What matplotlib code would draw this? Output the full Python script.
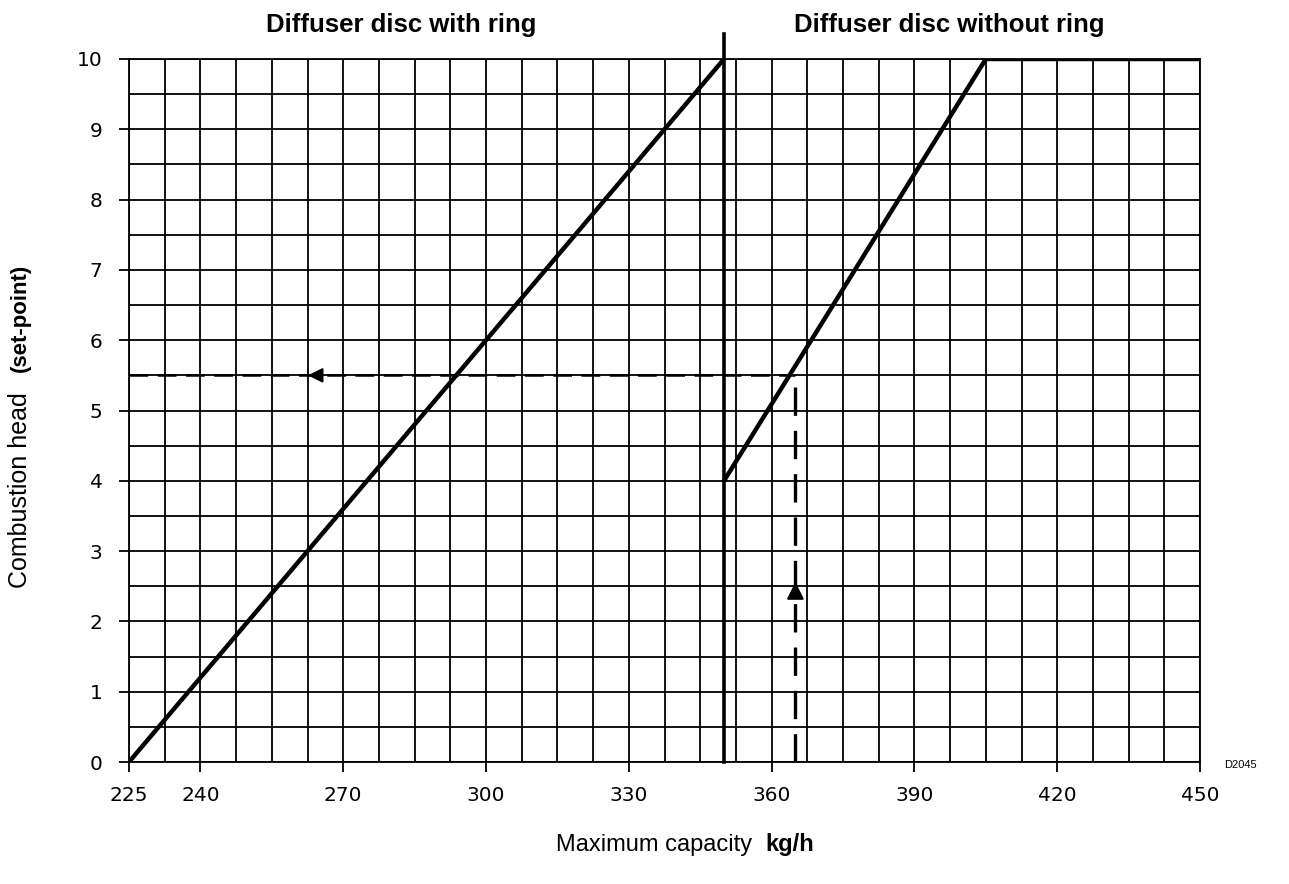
import matplotlib.pyplot as plt
from matplotlib.ticker import MultipleLocator, FixedLocator

plt.rcParams['font.family'] = 'DejaVu Sans'

# Curve data
ring_capacity = [225, 350]
ring_setpoint = [0, 10]
noring_capacity = [350, 405, 450]
noring_setpoint = [4, 10, 10]
divider_capacity = 350
divider_top = 10.35

# Worked example (dashed lines)
example_capacity = 365
example_setpoint = 5.5
arrow_left_tip = 262
arrow_up_tip = 2.6

x_ticks = [225, 240, 270, 300, 330, 360, 390, 420, 450]
y_ticks = list(range(0, 11))

W, H = 1289, 884
fig = plt.figure(figsize=(W / 100, H / 100), dpi=100)
ax = fig.add_axes([129 / W, 1 - 762 / H, (1200 - 129) / W, (762 - 59) / H])

ax.set_xlim(225, 450)
ax.set_ylim(0, 10)

ax.xaxis.set_major_locator(FixedLocator(x_ticks))
ax.xaxis.set_minor_locator(MultipleLocator(7.5))
ax.yaxis.set_major_locator(FixedLocator(y_ticks))
ax.yaxis.set_minor_locator(MultipleLocator(0.5))
ax.grid(which='both', color='black', linewidth=1.3)
ax.tick_params(which='major', length=7, width=1.3, labelsize=14.5)
ax.tick_params(axis='x', pad=10)
ax.tick_params(axis='y', pad=12)
ax.tick_params(which='minor', length=0)
for s in ax.spines.values():
    s.set_linewidth(1.3)
ax.set_axisbelow(True)

# Curves
ax.plot(ring_capacity, ring_setpoint, color='black', linewidth=3.2, solid_capstyle='butt')
ax.plot(noring_capacity, noring_setpoint, color='black', linewidth=3.2, solid_capstyle='butt')
ax.plot([divider_capacity, divider_capacity], [0, divider_top], color='black',
        linewidth=2.6, clip_on=False)

# Dashed reading lines
ax.plot([225, example_capacity], [example_setpoint, example_setpoint], color='black',
        linewidth=1.8, linestyle=(0, (7.5, 3.8)))
ax.plot([example_capacity, example_capacity], [0, example_setpoint], color='black',
        linewidth=2.4, linestyle=(0, (8.5, 4.5)))
ax.annotate('', xy=(arrow_left_tip, example_setpoint), xytext=(arrow_left_tip + 4, example_setpoint),
            arrowprops=dict(arrowstyle='-|>', color='black', mutation_scale=22, linewidth=1.5))
ax.annotate('', xy=(example_capacity, arrow_up_tip), xytext=(example_capacity, arrow_up_tip - 0.3),
            arrowprops=dict(arrowstyle='-|>', color='black', mutation_scale=26, linewidth=1.5))

# Titles over the two regions
fig.text(401 / W, 1 - 25 / H, 'Diffuser disc with ring', ha='center', va='center',
         fontsize=18.5, fontweight='bold', family='Liberation Sans')
fig.text(949 / W, 1 - 25 / H, 'Diffuser disc without ring', ha='center', va='center',
         fontsize=18.5, fontweight='bold', family='Liberation Sans')

# Axis labels with bold unit parts
fig.text(765 / W, 1 - 845 / H, 'Maximum capacity  ', ha='right', va='center',
         fontsize=17, family='Liberation Sans')
fig.text(765 / W, 1 - 845 / H, 'kg/h', ha='left', va='center',
         fontsize=17, fontweight='bold', family='Liberation Sans')
fig.text(20 / W, 1 - 372 / H, '(set-point)', ha='center', va='bottom', rotation=90,
         fontsize=16, fontweight='bold', family='Liberation Sans')
fig.text(20 / W, 1 - 392 / H, 'Combustion head', ha='center', va='top', rotation=90,
         fontsize=18, family='Liberation Sans')

fig.text(1240 / W, 1 - 765 / H, 'D2045', ha='center', va='center',
         fontsize=8, family='Liberation Sans')

fig.savefig('out.png', dpi=100)
